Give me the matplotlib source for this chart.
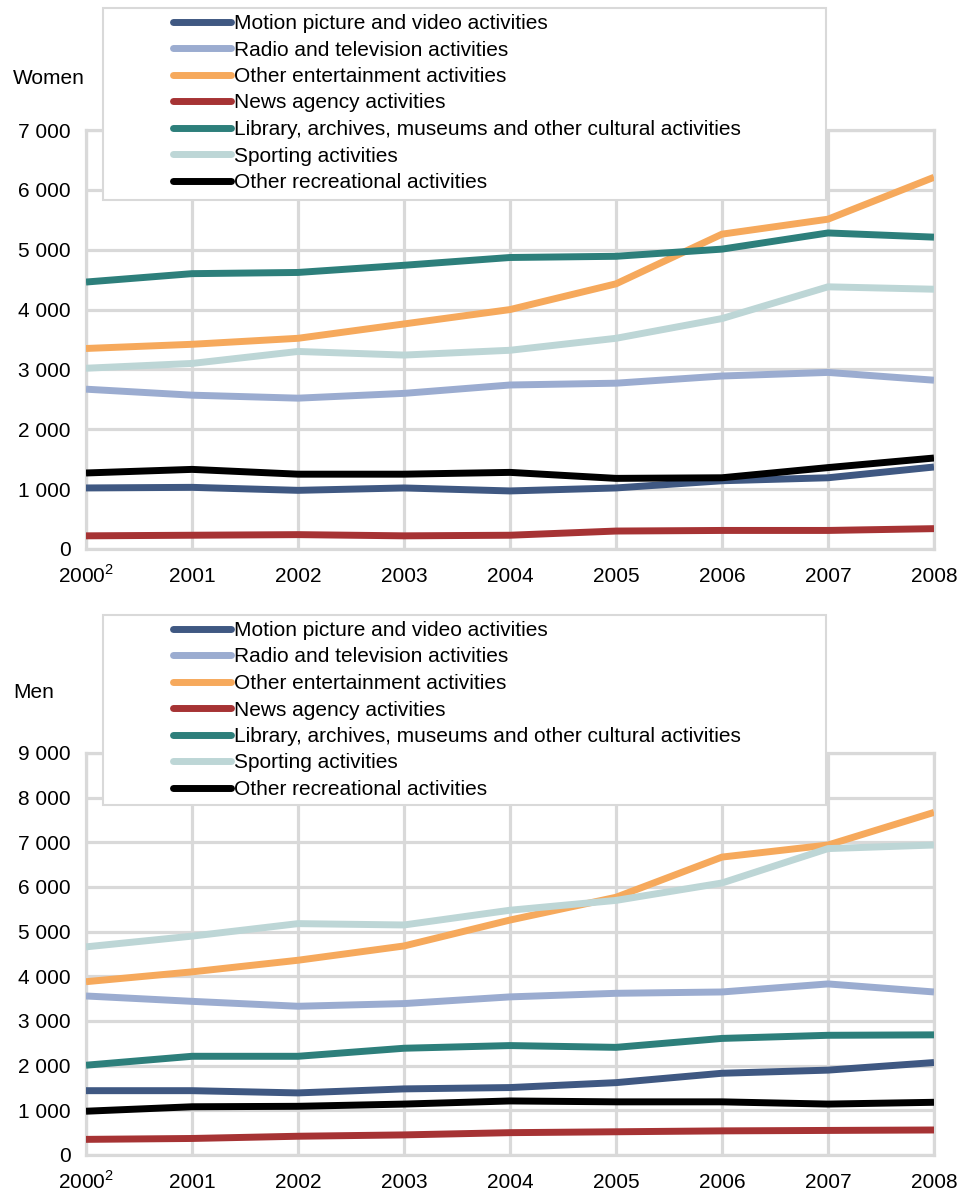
import matplotlib
matplotlib.use('Agg')
import matplotlib.pyplot as plt
from matplotlib.patches import Rectangle

plt.rcParams['font.family'] = ['Liberation Sans', 'DejaVu Sans']
plt.rcParams['mathtext.fontset'] = 'custom'
plt.rcParams['mathtext.rm'] = 'Liberation Sans'

years = ['2000$^{\\mathrm{2}}$', '2001', '2002', '2003', '2004', '2005', '2006', '2007', '2008']

labels = ['Motion picture and video activities',
          'Radio and television activities',
          'Other entertainment activities',
          'News agency activities',
          'Library, archives, museums and other cultural activities',
          'Sporting activities',
          'Other recreational activities']
colors = ['#3F5882', '#9BACD0', '#F6A95C', '#A63334', '#2D7F7B', '#BDD6D6', '#000000']

# Women
women_motion = [1020, 1030, 980, 1020, 970, 1020, 1140, 1190, 1370]
women_radio = [2670, 2570, 2520, 2600, 2740, 2770, 2890, 2950, 2820]
women_entertain = [3350, 3420, 3520, 3760, 4000, 4430, 5260, 5510, 6210]
women_news = [220, 230, 240, 220, 230, 300, 310, 310, 340]
women_library = [4460, 4600, 4620, 4740, 4870, 4890, 5010, 5280, 5210]
women_sport = [3020, 3100, 3300, 3240, 3320, 3520, 3850, 4380, 4340]
women_recreation = [1270, 1330, 1250, 1250, 1280, 1180, 1190, 1360, 1520]

# Men
men_motion = [1440, 1440, 1390, 1480, 1510, 1620, 1830, 1900, 2070]
men_radio = [3560, 3440, 3330, 3390, 3540, 3620, 3650, 3830, 3650]
men_entertain = [3880, 4100, 4360, 4680, 5260, 5770, 6670, 6940, 7670]
men_news = [350, 370, 420, 450, 500, 520, 540, 550, 560]
men_library = [2010, 2210, 2210, 2390, 2450, 2410, 2610, 2680, 2690]
men_sport = [4660, 4900, 5180, 5150, 5480, 5700, 6090, 6860, 6940]
men_recreation = [980, 1080, 1090, 1140, 1210, 1190, 1190, 1140, 1180]

women = [women_motion, women_radio, women_entertain, women_news,
         women_library, women_sport, women_recreation]
men = [men_motion, men_radio, men_entertain, men_news,
       men_library, men_sport, men_recreation]

W, H = 971, 1193
FS = 15
LW = 5
fig = plt.figure(figsize=(W / 100, H / 100), dpi=100)


def px_axes(left, top, right, bottom):
    return fig.add_axes([left / W, 1 - bottom / H, (right - left) / W, (bottom - top) / H])


def draw_panel(ax, series, ymax, title, title_y, leg_top, leg_bottom):
    x = list(range(len(years)))
    handles = []
    for vals, lab, col in zip(series, labels, colors):
        h, = ax.plot(x, vals, color=col, lw=LW, label=lab, solid_capstyle='butt', zorder=3)
        handles.append(h)
    ax.set_xlim(0, len(years) - 1)
    ax.set_ylim(0, ymax)
    ax.set_xticks(x)
    ax.set_xticklabels(years)
    yt = list(range(0, ymax + 1, 1000))
    ax.set_yticks(yt)
    ax.set_yticklabels(['{:,}'.format(v).replace(',', ' ') for v in yt])
    ax.tick_params(length=0, labelsize=FS)
    ax.tick_params(axis='y', pad=11)
    # year labels share one baseline, superscript included
    ax.tick_params(axis='x', pad=24)
    for lbl in ax.get_xticklabels():
        lbl.set_verticalalignment('baseline')
    ax.grid(True, color='#D9D9D9', lw=2.3, zorder=0)
    ax.set_axisbelow(True)
    for s in ax.spines.values():
        s.set_color('#D9D9D9')
        s.set_linewidth(2.3)
    fig.text(13 / W, 1 - (title_y + 1) / H, title, fontsize=FS, va='center', ha='left')

    # legend box sits over the top of the plot area
    fig.patches.append(Rectangle((103 / W, 1 - leg_bottom / H), (826 - 103) / W,
                                 (leg_bottom - leg_top) / H, transform=fig.transFigure,
                                 facecolor='white', edgecolor='#D9D9D9', lw=1.5, zorder=5))
    leg = fig.legend(handles=handles, loc='upper left',
                     bbox_to_anchor=(173 / W, 1 - (leg_top + 6) / H),
                     bbox_transform=fig.transFigure, frameon=False, fontsize=FS,
                     handlelength=2.8, handletextpad=0.15, labelspacing=0.36, borderpad=0,
                     borderaxespad=0)
    leg.set_zorder(6)
    for line in leg.get_lines():
        line.set_linewidth(LW)
        line.set_solid_capstyle('round')


ax1 = px_axes(86, 130, 934, 549)
draw_panel(ax1, women, 7000, 'Women', 77, 8, 200)

ax2 = px_axes(86, 753, 934, 1155)
draw_panel(ax2, men, 9000, 'Men', 692, 615, 805)

fig.savefig('out.png', dpi=100)
